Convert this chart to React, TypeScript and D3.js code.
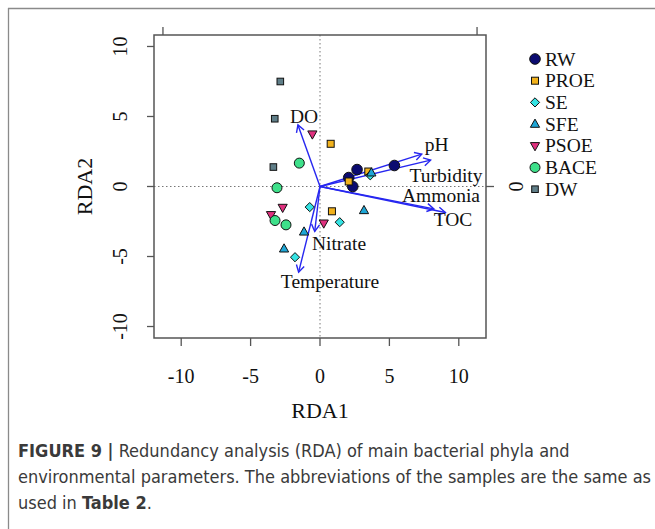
import React from "react";
import * as d3 from "d3";

const W = 655;
const H = 529;

// axis ticks
const xTicks = [-10, -5, 0, 5, 10];
const yTicks = [-10, -5, 0, 5, 10];
const topTicks = [-1, 1];
const rightTicks = [0];

// sample groups
const groups = ["RW", "PROE", "SE", "SFE", "PSOE", "BACE", "DW"];
const groupColors = ["#0b0b70", "#f2b21c", "#35e3e3", "#1ea6d6", "#e0307e", "#3ee08a", "#5f7e88"];
const groupShapes = ["circle", "square", "diamond", "triangle", "triangleDown", "circleSmall", "squareSmall"];

const RW = [[5.36, 1.5], [2.67, 1.21], [2.07, 0.64], [2.36, 0.0]];
const PROE = [[0.77, 3.05], [3.48, 1.07], [2.07, 0.36], [0.86, -1.77]];
const SE = [[3.62, 0.8], [-0.74, -1.47], [1.42, -2.55], [-1.8, -5.05]];
const SFE = [[3.7, 0.98], [-1.15, -3.24], [-2.59, -4.45], [3.17, -1.71]];
const PSOE = [[-0.55, 3.74], [-2.69, -1.5], [-3.53, -2.02], [0.27, -2.62]];
const BACE = [[-1.49, 1.67], [-3.1, -0.09], [-3.24, -2.43], [-2.45, -2.74]];
const DW = [[-2.86, 7.5], [-3.26, 4.84], [-3.36, 1.39]];
const groupData = [RW, PROE, SE, SFE, PSOE, BACE, DW];

// environmental vectors: name, tip, label anchor
const envNames = ["DO", "pH", "Turbidity", "Ammonia", "TOC", "Nitrate", "Temperature"];
const envTips = [[-1.59, 4.4], [7.33, 2.31], [7.97, 1.88], [8.21, -1.6], [9.03, -1.86], [-0.38, -3.21], [-1.54, -6.12]];
const envLabels = [[-1.15, 4.98], [8.41, 2.98], [9.08, 0.8], [8.72, -0.64], [9.58, -2.38], [1.37, -4.09], [0.72, -6.8]];

const captionBold1 = "FIGURE 9 |";
const captionLine1 = " Redundancy analysis (RDA) of main bacterial phyla and";
const captionLine2 = "environmental parameters. The abbreviations of the samples are the same as";
const captionLine3a = "used in ";
const captionLine3b = "Table 2";
const captionLine3c = ".";

const serif = "'Liberation Serif', 'Times New Roman', serif";
const narrow = "'Liberation Sans Narrow', 'DejaVu Sans Condensed', 'Arial Narrow', sans-serif";

function Marker({ shape, cx, cy, fill }: { shape: string; cx: number; cy: number; fill: string }) {
  const st = { fill, stroke: "#111", strokeWidth: 1 };
  if (shape === "circle") return <circle cx={cx} cy={cy} r={5.3} {...st} />;
  if (shape === "circleSmall") return <circle cx={cx} cy={cy} r={5} {...st} />;
  if (shape === "square") return <rect x={cx - 3.5} y={cy - 3.5} width={7} height={7} {...st} />;
  if (shape === "squareSmall") return <rect x={cx - 3.3} y={cy - 3.3} width={6.6} height={6.6} {...st} />;
  if (shape === "diamond")
    return <path d={`M${cx},${cy - 4.6}L${cx + 4.6},${cy}L${cx},${cy + 4.6}L${cx - 4.6},${cy}Z`} {...st} />;
  if (shape === "triangle")
    return <path d={`M${cx},${cy - 5}L${cx + 4.6},${cy + 3.2}L${cx - 4.6},${cy + 3.2}Z`} {...st} />;
  return <path d={`M${cx},${cy + 5}L${cx + 4.6},${cy - 3.2}L${cx - 4.6},${cy - 3.2}Z`} {...st} />;
}

export default function App() {
  const L = 154, R = 486, T = 35, B = 338;
  const x = d3.scaleLinear().domain([-11.96, 11.96]).range([L, R]);
  const y = d3.scaleLinear().domain([-10.82, 10.82]).range([B, T]);
  const xTop = d3.scaleLinear().domain([-1.057, 1.057]).range([L, R]);
  const yRight = d3.scaleLinear().domain([-1, 1]).range([B, T]);

  const axisColor = "#555";
  const blue = "#2727f0";

  const arrowHead = (x0: number, y0: number, x1: number, y1: number) => {
    const ang = Math.atan2(y1 - y0, x1 - x0);
    const len = 8;
    const a = Math.PI / 6;
    const p1 = [x1 - len * Math.cos(ang - a), y1 - len * Math.sin(ang - a)];
    const p2 = [x1 - len * Math.cos(ang + a), y1 - len * Math.sin(ang + a)];
    return `M${p1[0]},${p1[1]}L${x1},${y1}L${p2[0]},${p2[1]}`;
  };

  return (
    <svg width={W} height={H} style={{ position: "absolute", left: 0, top: 0, background: "#fff" }}>
      {/* frame */}
      <line x1={8} y1={8.5} x2={W} y2={8.5} stroke="#8a8a8a" strokeWidth={1.3} />
      <line x1={8.5} y1={8} x2={8.5} y2={H} stroke="#8a8a8a" strokeWidth={1.3} />

      {/* zero lines */}
      <line x1={x(0)} y1={T} x2={x(0)} y2={B} stroke="#777" strokeWidth={1} strokeDasharray="1.5,2.5" />
      <line x1={L} y1={y(0)} x2={R} y2={y(0)} stroke="#777" strokeWidth={1} strokeDasharray="1.5,2.5" />

      {/* env arrows */}
      {envTips.map((t, i) => {
        const x0 = x(0), y0 = y(0), x1 = x(t[0]), y1 = y(t[1]);
        return (
          <g key={envNames[i]} stroke={blue} strokeWidth={1.4} fill="none">
            <line x1={x0} y1={y0} x2={x1} y2={y1} />
            <path d={arrowHead(x0, y0, x1, y1)} />
          </g>
        );
      })}

      {/* points */}
      {groupData.map((pts, gi) =>
        pts.map((p, pi) => (
          <Marker key={`${gi}-${pi}`} shape={groupShapes[gi]} cx={x(p[0])} cy={y(p[1])} fill={groupColors[gi]} />
        ))
      )}

      {/* env labels */}
      {envLabels.map((p, i) => (
        <text key={envNames[i]} x={x(p[0])} y={y(p[1])} textAnchor="middle" dominantBaseline="central"
          fontFamily={serif} fontSize={19.5} fill="#111">{envNames[i]}</text>
      ))}

      {/* box */}
      <rect x={L} y={T} width={R - L} height={B - T} fill="none" stroke={axisColor} strokeWidth={1.5} />

      {/* bottom axis */}
      {xTicks.map((v) => (
        <g key={`bx${v}`}>
          <line x1={x(v)} y1={B} x2={x(v)} y2={B + 8} stroke={axisColor} strokeWidth={1.3} />
          <text x={x(v)} y={376} textAnchor="middle" dominantBaseline="central" fontFamily={serif} fontSize={20} fill="#111">{v}</text>
        </g>
      ))}
      {/* left axis */}
      {yTicks.map((v) => (
        <g key={`ly${v}`}>
          <line x1={L - 7} y1={y(v)} x2={L} y2={y(v)} stroke={axisColor} strokeWidth={1.3} />
          <text transform={`translate(120,${y(v)}) rotate(-90)`} textAnchor="middle" dominantBaseline="central"
            fontFamily={serif} fontSize={20} fill="#111">{v}</text>
        </g>
      ))}
      {/* top axis */}
      {topTicks.map((v) => (
        <line key={`t${v}`} x1={xTop(v)} y1={T - 8} x2={xTop(v)} y2={T} stroke={axisColor} strokeWidth={1.3} />
      ))}
      {/* right axis */}
      {rightTicks.map((v) => (
        <g key={`r${v}`}>
          <line x1={R} y1={yRight(v)} x2={R + 8} y2={yRight(v)} stroke={axisColor} strokeWidth={1.3} />
          <text transform={`translate(516,${yRight(v)}) rotate(-90)`} textAnchor="middle" dominantBaseline="central"
            fontFamily={serif} fontSize={20} fill="#111">{v}</text>
        </g>
      ))}

      {/* axis titles */}
      <text x={320} y={410} textAnchor="middle" dominantBaseline="central" fontFamily={serif} fontSize={22} fill="#111">RDA1</text>
      <text transform={`translate(84,${y(0)}) rotate(-90)`} textAnchor="middle" dominantBaseline="central"
        fontFamily={serif} fontSize={22} fill="#111">RDA2</text>

      {/* legend */}
      {groups.map((g, i) => (
        <g key={g}>
          <Marker shape={groupShapes[i]} cx={535} cy={59 + i * 21.7} fill={groupColors[i]} />
          <text x={545} y={59 + i * 21.7} dominantBaseline="central" fontFamily={serif} fontSize={19.5} fill="#111">{g}</text>
        </g>
      ))}

      {/* caption */}
      <text x={18} y={457} fontFamily={narrow} fontSize={18} fill="#3a3a3a">
        <tspan fontWeight="bold">{captionBold1}</tspan>
        <tspan>{captionLine1}</tspan>
      </text>
      <text x={18} y={483} fontFamily={narrow} fontSize={18} fill="#3a3a3a">{captionLine2}</text>
      <text x={18} y={509} fontFamily={narrow} fontSize={18} fill="#3a3a3a">
        <tspan>{captionLine3a}</tspan>
        <tspan fontWeight="bold">{captionLine3b}</tspan>
        <tspan>{captionLine3c}</tspan>
      </text>
    </svg>
  );
}
